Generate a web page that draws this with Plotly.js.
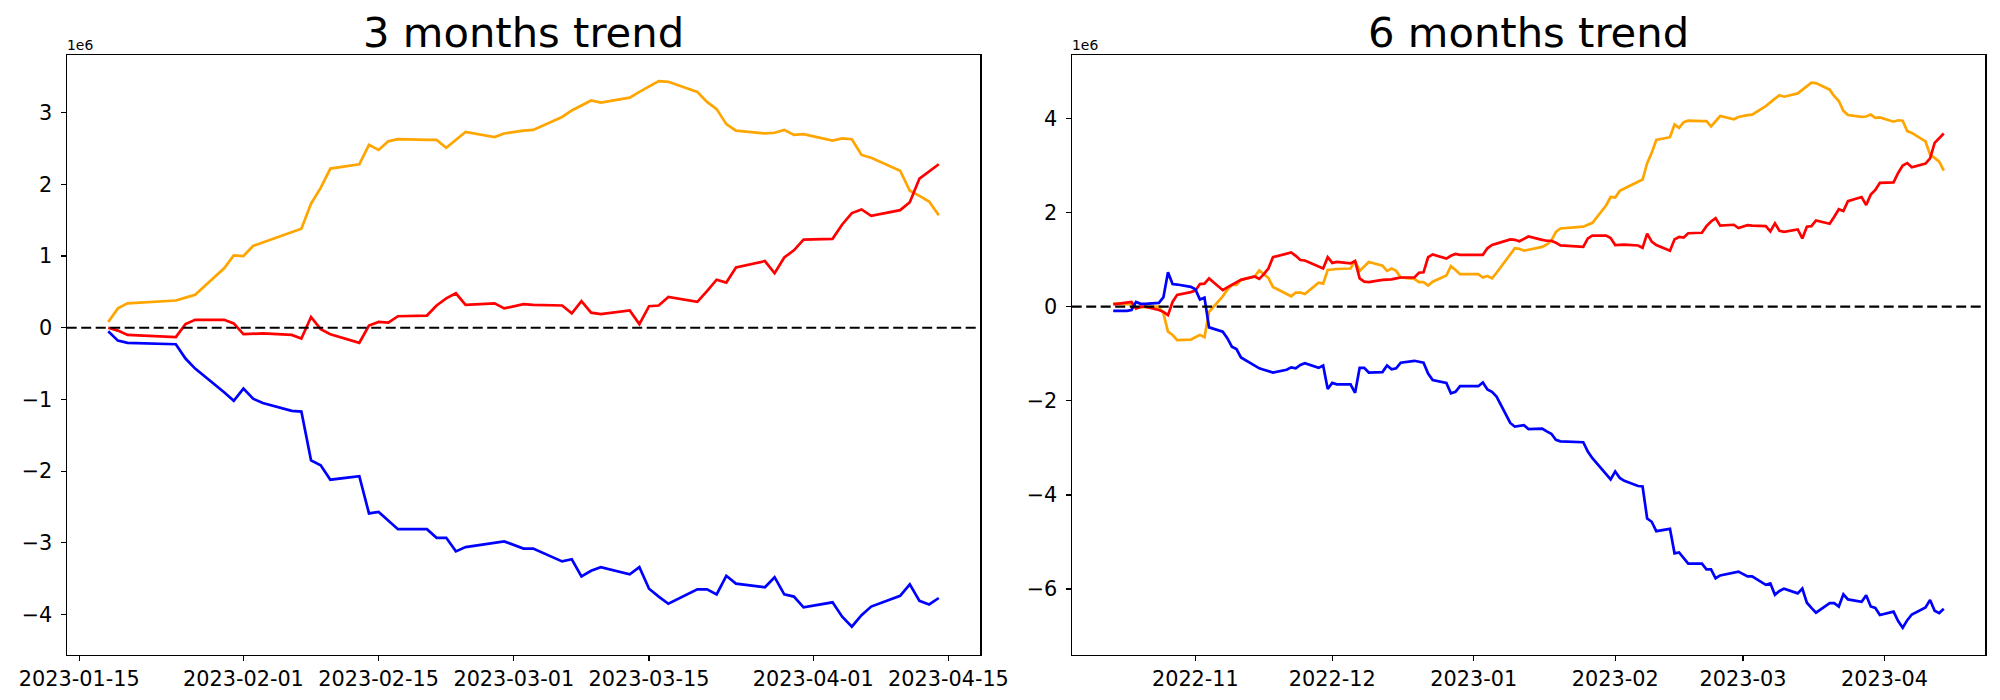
<!DOCTYPE html>
<html>
<head>
<meta charset="utf-8">
<script src="https://cdn.plot.ly/plotly-3.0.1.min.js"></script>
<style>html,body{margin:0;padding:0;background:#fff;}#chart{width:2000px;height:700px;}</style>
</head>
<body>
<div id="chart"></div>
<script>
// ---------- 3 months (values in units of 1e6) ----------
const dates3 = ["2023-01-18","2023-01-19","2023-01-20","2023-01-25","2023-01-26","2023-01-27","2023-01-30","2023-01-31",
"2023-02-01","2023-02-02","2023-02-03","2023-02-06","2023-02-07","2023-02-08","2023-02-09","2023-02-10","2023-02-13","2023-02-14","2023-02-15","2023-02-16","2023-02-17","2023-02-20","2023-02-21","2023-02-22","2023-02-23","2023-02-24","2023-02-27","2023-02-28",
"2023-03-02","2023-03-03","2023-03-06","2023-03-07","2023-03-08","2023-03-09","2023-03-10","2023-03-13","2023-03-14","2023-03-15","2023-03-16","2023-03-17","2023-03-20","2023-03-21","2023-03-22","2023-03-23","2023-03-24","2023-03-27","2023-03-28","2023-03-29","2023-03-30","2023-03-31",
"2023-04-03","2023-04-04","2023-04-05","2023-04-06","2023-04-07","2023-04-10","2023-04-11","2023-04-12","2023-04-13","2023-04-14"];
const orange3 = [0.08,0.27,0.34,0.38,0.42,0.46,0.83,1.01,1.00,1.14,1.19,1.33,1.38,1.73,1.95,2.22,2.28,2.55,2.48,2.60,2.63,2.62,2.62,2.51,2.62,2.73,2.66,2.71,2.75,2.76,2.94,3.03,3.10,3.17,3.14,3.21,3.29,3.36,3.44,3.43,3.29,3.15,3.05,2.84,2.75,2.71,2.72,2.76,2.69,2.70,2.61,2.64,2.63,2.41,2.37,2.19,1.91,1.84,1.76,1.57];
const red3 = [0.00,-0.04,-0.10,-0.13,0.05,0.11,0.11,0.06,-0.09,-0.09,-0.08,-0.10,-0.15,0.15,-0.02,-0.09,-0.21,0.03,0.08,0.07,0.16,0.17,0.31,0.41,0.48,0.32,0.34,0.27,0.33,0.32,0.31,0.20,0.37,0.21,0.19,0.24,0.05,0.30,0.31,0.43,0.36,0.51,0.67,0.63,0.84,0.93,0.76,0.98,1.08,1.23,1.24,1.44,1.60,1.65,1.56,1.64,1.75,2.08,2.18,2.28];
const blue3 = [-0.05,-0.18,-0.21,-0.23,-0.43,-0.57,-0.90,-1.02,-0.85,-0.99,-1.05,-1.16,-1.17,-1.85,-1.92,-2.12,-2.07,-2.59,-2.57,-2.69,-2.81,-2.81,-2.93,-2.93,-3.12,-3.06,-3.00,-2.98,-3.08,-3.08,-3.26,-3.23,-3.47,-3.39,-3.34,-3.44,-3.34,-3.64,-3.75,-3.85,-3.65,-3.65,-3.72,-3.46,-3.57,-3.62,-3.48,-3.72,-3.75,-3.90,-3.83,-4.03,-4.17,-4.01,-3.89,-3.74,-3.58,-3.81,-3.86,-3.77];

// ---------- 6 months (values in units of 1e6) ----------
const datesEarly6 = ["2022-10-14","2022-10-17","2022-10-18","2022-10-19","2022-10-20","2022-10-21","2022-10-24","2022-10-25","2022-10-26","2022-10-27","2022-10-28","2022-10-31",
"2022-11-01","2022-11-02","2022-11-03","2022-11-04","2022-11-07","2022-11-08","2022-11-09","2022-11-10","2022-11-11","2022-11-14","2022-11-15","2022-11-16","2022-11-17","2022-11-18","2022-11-21","2022-11-22","2022-11-23","2022-11-24","2022-11-25","2022-11-28","2022-11-29","2022-11-30",
"2022-12-01","2022-12-02","2022-12-05","2022-12-06","2022-12-07","2022-12-08","2022-12-09","2022-12-12","2022-12-13","2022-12-14","2022-12-15","2022-12-16","2022-12-19","2022-12-20","2022-12-21","2022-12-22","2022-12-23","2022-12-26","2022-12-27","2022-12-28","2022-12-29",
"2023-01-02","2023-01-03","2023-01-04","2023-01-05","2023-01-06","2023-01-09","2023-01-10","2023-01-11","2023-01-12","2023-01-13","2023-01-16","2023-01-17"];
const dates6 = datesEarly6.concat(dates3);
const orange6 = [0.07,0.06,0.05,-0.02,-0.02,-0.01,0.00,-0.14,-0.53,-0.60,-0.71,-0.70,
-0.65,-0.60,-0.65,-0.11,0.22,0.36,0.46,0.46,0.57,0.64,0.77,0.69,0.61,0.42,0.26,0.22,0.30,0.30,0.27,0.51,0.49,0.78,
0.79,0.80,0.81,0.97,0.76,0.85,0.95,0.87,0.76,0.81,0.76,0.62,0.59,0.52,0.52,0.45,0.53,0.66,0.86,0.78,0.69,
0.69,0.62,0.65,0.60,0.72,1.13,1.24,1.23,1.19,1.21,1.27,1.32,
1.40,1.59,1.66,1.70,1.74,1.78,2.15,2.33,2.32,2.46,2.51,2.65,2.70,3.05,3.27,3.54,3.60,3.87,3.80,3.92,3.95,3.94,3.94,3.83,3.94,4.05,3.98,4.03,4.07,4.08,4.26,4.35,4.42,4.49,4.46,4.53,4.61,4.68,4.76,4.75,4.61,4.47,4.37,4.16,4.07,4.03,4.04,4.08,4.01,4.02,3.93,3.96,3.95,3.73,3.69,3.51,3.23,3.16,3.08,2.89];
const red6 = [0.05,0.08,0.10,-0.04,0.00,0.00,-0.07,-0.11,-0.18,0.10,0.25,0.31,
0.34,0.48,0.49,0.60,0.35,0.41,0.46,0.51,0.57,0.64,0.59,0.69,0.81,1.05,1.13,1.15,1.08,0.99,0.98,0.86,0.81,1.05,
0.93,0.95,0.92,0.97,0.60,0.53,0.52,0.57,0.57,0.58,0.60,0.62,0.62,0.72,0.73,1.05,1.11,1.02,1.08,1.12,1.10,
1.10,1.10,1.24,1.31,1.34,1.43,1.42,1.39,1.44,1.49,1.42,1.40,
1.40,1.36,1.30,1.27,1.45,1.51,1.51,1.46,1.31,1.31,1.32,1.30,1.25,1.55,1.38,1.31,1.19,1.43,1.48,1.47,1.56,1.57,1.71,1.81,1.88,1.72,1.74,1.67,1.73,1.72,1.71,1.60,1.77,1.61,1.59,1.64,1.45,1.70,1.71,1.83,1.76,1.91,2.07,2.03,2.24,2.33,2.16,2.38,2.48,2.63,2.64,2.84,3.00,3.05,2.96,3.04,3.15,3.48,3.58,3.68];
const blue6 = [-0.09,-0.09,-0.07,0.10,0.06,0.06,0.08,0.20,0.73,0.48,0.47,0.42,
0.37,0.15,0.19,-0.44,-0.53,-0.67,-0.85,-0.90,-1.08,-1.25,-1.31,-1.34,-1.37,-1.40,-1.34,-1.29,-1.31,-1.24,-1.20,-1.30,-1.25,-1.75,
-1.62,-1.65,-1.65,-1.83,-1.30,-1.30,-1.40,-1.39,-1.25,-1.33,-1.31,-1.19,-1.15,-1.17,-1.19,-1.42,-1.56,-1.62,-1.84,-1.81,-1.69,
-1.69,-1.61,-1.76,-1.81,-1.91,-2.47,-2.55,-2.54,-2.52,-2.60,-2.59,-2.65,
-2.70,-2.83,-2.86,-2.88,-3.08,-3.22,-3.55,-3.67,-3.50,-3.64,-3.70,-3.81,-3.82,-4.50,-4.57,-4.77,-4.72,-5.24,-5.22,-5.34,-5.46,-5.46,-5.58,-5.58,-5.77,-5.71,-5.65,-5.63,-5.73,-5.73,-5.91,-5.88,-6.12,-6.04,-5.99,-6.09,-5.99,-6.29,-6.40,-6.50,-6.30,-6.30,-6.37,-6.11,-6.22,-6.27,-6.13,-6.37,-6.40,-6.55,-6.48,-6.68,-6.82,-6.66,-6.54,-6.39,-6.23,-6.46,-6.51,-6.42];

// ---------- tick labels ----------
const xTickVals3 = ["2023-01-15","2023-02-01","2023-02-15","2023-03-01","2023-03-15","2023-04-01","2023-04-15"];
const xTickText3 = ["2023-01-15","2023-02-01","2023-02-15","2023-03-01","2023-03-15","2023-04-01","2023-04-15"];
const xTickVals6 = ["2022-11-01","2022-12-01","2023-01-01","2023-02-01","2023-03-01","2023-04-01"];
const xTickText6 = ["2022-11","2022-12","2023-01","2023-02","2023-03","2023-04"];
const yTickVals3 = [-4,-3,-2,-1,0,1,2,3];
const yTickText3 = ["\u22124","\u22123","\u22122","\u22121","0","1","2","3"];
const yTickVals6 = [-6,-4,-2,0,2,4];
const yTickText6 = ["\u22126","\u22124","\u22122","0","2","4"];
const titles = ["3 months trend","6 months trend"];
const scaleLabel = "1e6";

const LW = 2.7;
function line(x, y, color, xa, ya) {
  return {x: x, y: y, type: "scatter", mode: "lines", line: {color: color, width: LW},
          xaxis: xa, yaxis: ya, hoverinfo: "skip"};
}
const traces = [
  line(dates3, orange3, "orange", "x", "y"),
  line(dates3, red3, "red", "x", "y"),
  line(dates3, blue3, "blue", "x", "y"),
  line(dates6, orange6, "orange", "x2", "y2"),
  line(dates6, red6, "red", "x2", "y2"),
  line(dates6, blue6, "blue", "x2", "y2")
];

const FONT = "DejaVu Sans, sans-serif";
const tickFont = {family: FONT, size: 20.8, color: "#000"};
function xax(domain, range, tv, tt, anchor) {
  return {domain: domain, type: "date", range: range, tickmode: "array", tickvals: tv, ticktext: tt,
    ticks: "outside", ticklen: 5, tickwidth: 1.2, tickcolor: "#000", tickfont: tickFont,
    showline: true, mirror: true, linecolor: "#000", linewidth: 1.2, showgrid: false, zeroline: false,
    anchor: anchor, fixedrange: true};
}
function yax(domain, range, tv, tt, anchor) {
  return {domain: domain, range: range, tickmode: "array", tickvals: tv, ticktext: tt,
    ticks: "outside", ticklen: 5, tickwidth: 1.2, tickcolor: "#000", tickfont: tickFont,
    showline: true, mirror: true, linecolor: "#000", linewidth: 1.2, showgrid: false, zeroline: false,
    anchor: anchor, fixedrange: true, ticklabelstandoff: 4};
}
const yDom = [0.0643, 0.921];
const layout = {
  width: 2000, height: 700, margin: {l: 0, r: 0, t: 0, b: 0},
  paper_bgcolor: "#fff", plot_bgcolor: "#fff", showlegend: false,
  xaxis: xax([0.03335, 0.49015], ["2023-01-13 16:48", "2023-04-18 07:12"], xTickVals3, xTickText3, "y"),
  yaxis: yax(yDom, [-4.565, 3.80], yTickVals3, yTickText3, "x"),
  xaxis2: xax([0.53585, 0.99265], ["2022-10-04 21:36", "2023-04-23 02:24"], xTickVals6, xTickText6, "y2"),
  yaxis2: yax(yDom, [-7.40, 5.34], yTickVals6, yTickText6, "x2"),
  shapes: [
    {type: "line", xref: "x domain", yref: "y", x0: 0, x1: 1, y0: 0, y1: 0,
     line: {color: "#000", width: 2.1, dash: "10px,4.5px"}},
    {type: "line", xref: "x2 domain", yref: "y2", x0: 0, x1: 1, y0: 0, y1: 0,
     line: {color: "#000", width: 2.1, dash: "10px,4.5px"}}
  ],
  annotations: [
    {text: titles[0], xref: "paper", yref: "paper", x: 0.26175, y: 0.954, xanchor: "center", yanchor: "middle",
     showarrow: false, font: {family: FONT, size: 41.7, color: "#000"}},
    {text: titles[1], xref: "paper", yref: "paper", x: 0.76425, y: 0.954, xanchor: "center", yanchor: "middle",
     showarrow: false, font: {family: FONT, size: 41.7, color: "#000"}},
    {text: scaleLabel, xref: "paper", yref: "paper", x: 0.03335, y: 0.921, xanchor: "left", yanchor: "bottom",
     showarrow: false, font: {family: FONT, size: 13.9, color: "#000"}, xshift: -2},
    {text: scaleLabel, xref: "paper", yref: "paper", x: 0.53585, y: 0.921, xanchor: "left", yanchor: "bottom",
     showarrow: false, font: {family: FONT, size: 13.9, color: "#000"}, xshift: -2}
  ]
};
Plotly.newPlot("chart", traces, layout, {staticPlot: true, displayModeBar: false});
</script>
</body>
</html>
